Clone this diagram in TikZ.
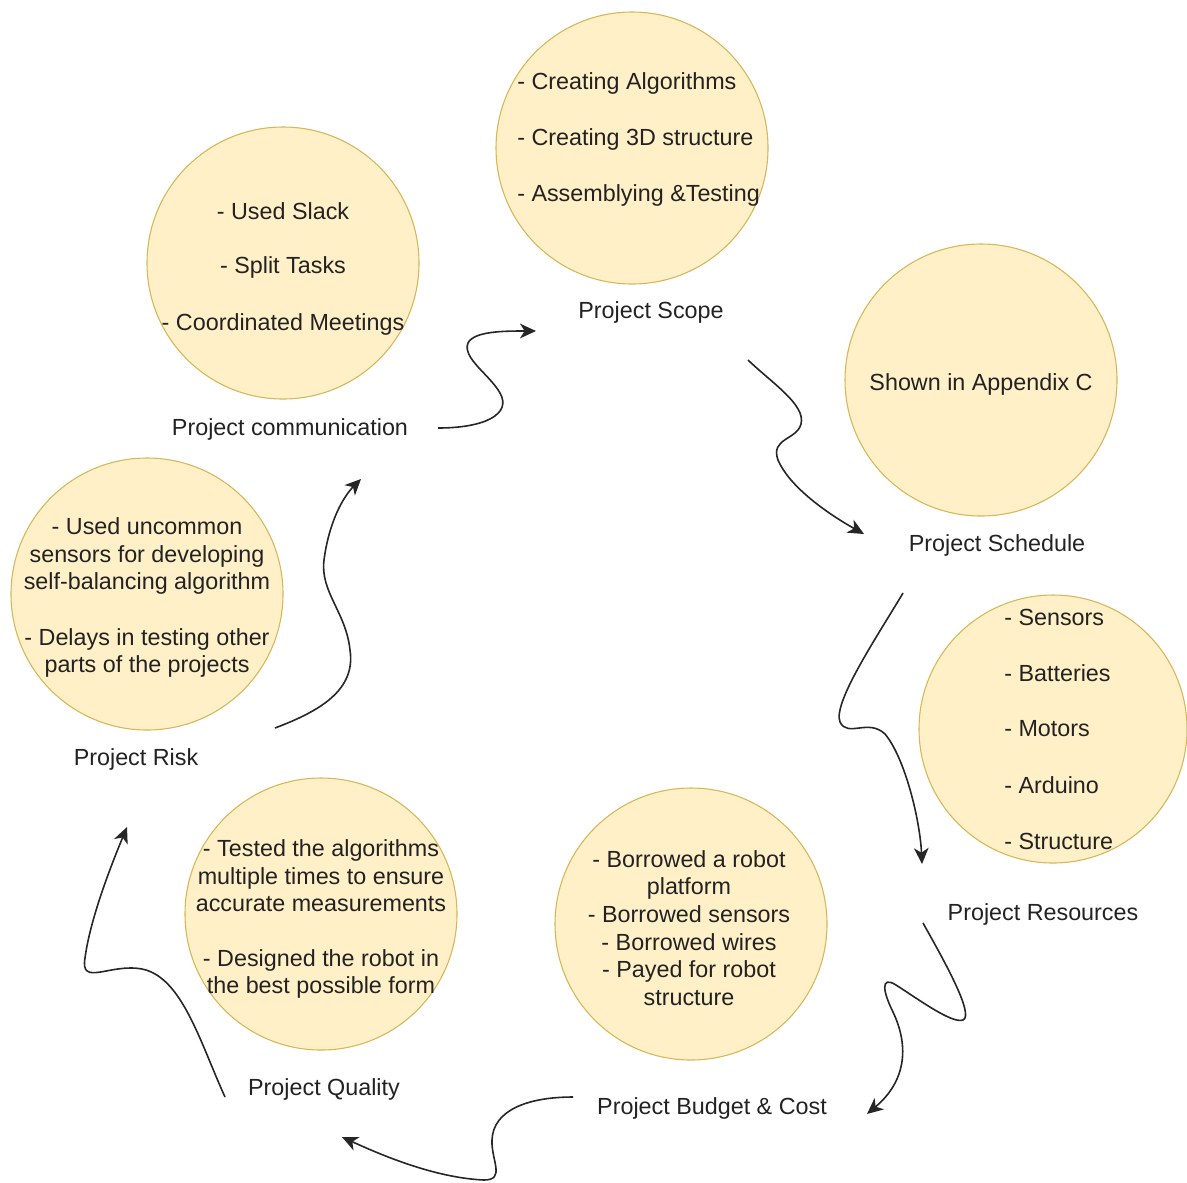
\documentclass[tikz,border=0pt]{standalone}
\usepackage{fontspec}
\setmainfont{Liberation Sans}
\usetikzlibrary{arrows.meta}
\definecolor{cfill}{HTML}{FFF0C8}
\definecolor{cline}{HTML}{D6B656}
\definecolor{ctext}{HTML}{222222}
\begin{document}
\begin{tikzpicture}[x=0.75pt,y=-0.75pt,
  circ/.style={circle,draw=cline,fill=cfill,line width=0.8pt,minimum size=#1*0.75pt,inner sep=0pt},
  circ/.default=272,
  txt/.style={font=\fontsize{17.5}{21}\selectfont,text=ctext,inner sep=0pt,yshift=-1.5pt},
  lbl/.style={txt,align=center},
  conn/.style={line width=1.2pt,draw=black!85,-{Stealth[length=12pt,width=11pt,inset=3.5pt]}}]
\useasboundingbox (0,0) rectangle (1187,1182);
% circles
\node[circ] (cscope) at (632,148) {};
\node[circ] (ccomm) at (283,263) {};
\node[circ] (csched) at (981,380) {};
\node[circ=268] (cres) at (1053,729) {};
\node[circ] (cbud) at (691,924) {};
\node[circ] (cqual) at (321,914) {};
\node[circ] (crisk) at (147,594) {};
% circle texts
\node[txt,anchor=west] (s1) at (517,81) {- Creating Algorithms};
\node[txt,anchor=west] (s2) at (517,137) {- Creating 3D structure};
\node[txt,anchor=west] (s3) at (517,193) {- Assemblying \&Testing};
\node[txt] (m1) at (283,209) {- Used Slack};
\node[txt] (m2) at (283,265) {- Split Tasks};
\node[txt] (m3) at (283,322) {- Coordinated Meetings};
\node[txt] (h1) at (981,382) {Shown in Appendix C};
\node[txt,anchor=west] (r1) at (1004,615) {- Sensors};
\node[txt,anchor=west] (r2) at (1004,671) {- Batteries};
\node[txt,anchor=west] (r3) at (1004,727) {- Motors};
\node[txt,anchor=west] (r4) at (1004,783) {- Arduino};
\node[txt,anchor=west] (r5) at (1004,839) {- Structure};
\node[lbl,font=\fontsize{17.5}{20.8}\selectfont] (b1) at (689,926) {- Borrowed a robot\\platform\\- Borrowed sensors\\- Borrowed wires\\- Payed for robot\\structure};
\node[lbl,font=\fontsize{17.5}{20.6}\selectfont] (q1) at (321,874) {- Tested the algorithms\\multiple times to ensure\\accurate measurements};
\node[lbl,font=\fontsize{17.5}{20.6}\selectfont] (q2) at (321,972) {- Designed the robot in\\the best possible form};
\node[lbl,font=\fontsize{17.5}{20.6}\selectfont] (k1) at (147,554) {- Used uncommon\\sensors for developing\\self-balancing algorithm};
\node[lbl,font=\fontsize{17.5}{20.6}\selectfont] (k2) at (147,651) {- Delays in testing other\\parts of the projects};
% labels
\node[txt] (lscope) at (651,310) {Project Scope};
\node[txt] (lcomm) at (290,427) {Project communication};
\node[txt] (lsched) at (997,543) {Project Schedule};
\node[txt] (lres) at (1043,912) {Project Resources};
\node[txt] (lbud) at (712,1106) {Project Budget \& Cost};
\node[txt] (lqual) at (324,1087) {Project Quality};
\node[txt] (lrisk) at (136,757) {Project Risk};
% connector endpoints
\coordinate (a1s) at (438,428); \coordinate (a1e) at (536,331);
\coordinate (a2s) at (748,360); \coordinate (a2e) at (864,534);
\coordinate (a3s) at (903,593); \coordinate (a3e) at (922,864);
\coordinate (a4s) at (923,923); \coordinate (a4e) at (867,1114);
\coordinate (a5s) at (573,1097); \coordinate (a5e) at (342,1137);
\coordinate (a6s) at (225,1097); \coordinate (a6e) at (127,827);
\coordinate (a7s) at (275,728); \coordinate (a7e) at (361,479);
% connectors
\draw[conn] (a1s) .. controls (485,428) and (512,414) .. (500,393)
  .. controls (490,375) and (462,358) .. (468,343)
  .. controls (474,331) and (505,331) .. (a1e);
\draw[conn] (a2s) .. controls (772,383) and (806,405) .. (801,424)
  .. controls (797,440) and (770,438) .. (778,460)
  .. controls (790,488) and (830,515) .. (a2e);
\draw[conn] (a3s) .. controls (880,632) and (832,703) .. (840,722)
  .. controls (848,738) and (868,718) .. (885,734)
  .. controls (905,758) and (920,820) .. (a3e);
\draw[conn] (a4s) .. controls (942,957) and (975,1015) .. (963,1020)
  .. controls (952,1024) and (918,999) .. (896,985)
  .. controls (880,975) and (883,992) .. (893,1012)
  .. controls (910,1048) and (905,1082) .. (a4e);
\draw[conn] (a5s) .. controls (528,1097) and (493,1110) .. (492,1140)
  .. controls (491,1160) and (506,1180) .. (484,1180)
  .. controls (440,1178) and (392,1160) .. (a5e);
\draw[conn] (a6s) .. controls (200,1042) and (182,977) .. (142,969)
  .. controls (110,963) and (80,987) .. (85,958)
  .. controls (90,920) and (110,868) .. (a6e);
\draw[conn] (a7s) .. controls (320,711) and (356,690) .. (350,650)
  .. controls (346,612) and (320,592) .. (324,560)
  .. controls (329,522) and (343,497) .. (a7e);
\end{tikzpicture}
\end{document}
